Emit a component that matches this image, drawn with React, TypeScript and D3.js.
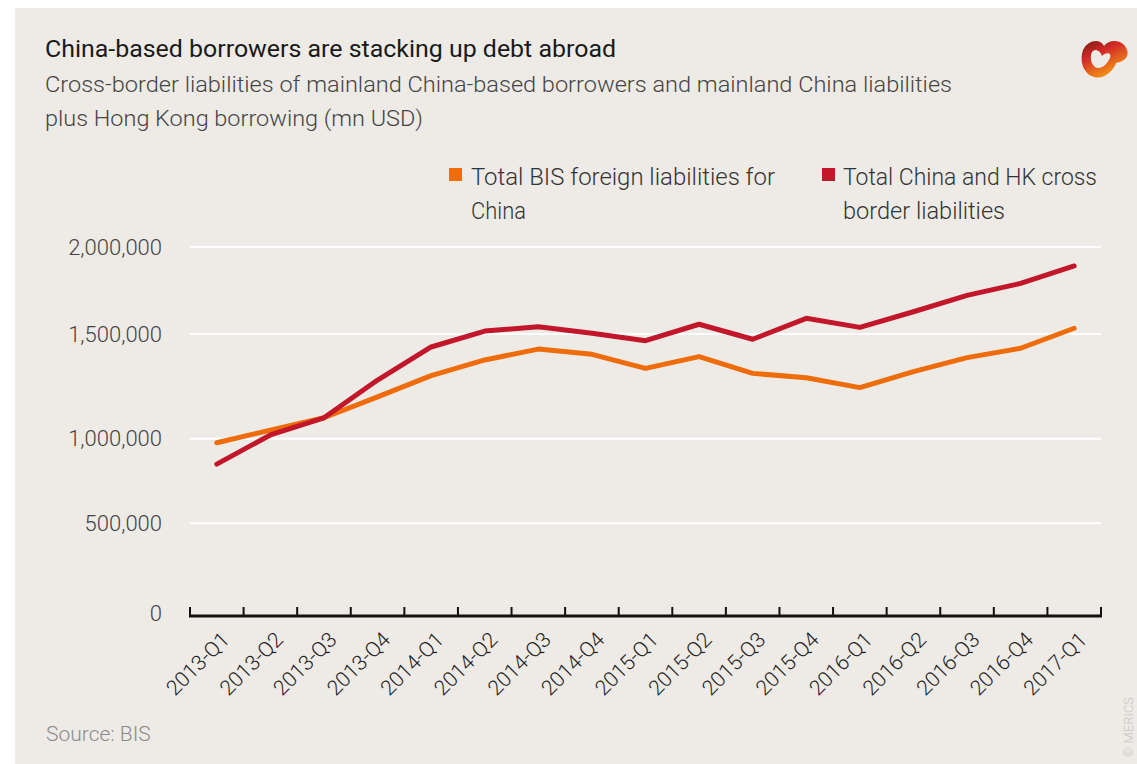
import React from "react";
import * as d3 from "d3";

const quarters = [
  "2013-Q1", "2013-Q2", "2013-Q3", "2013-Q4",
  "2014-Q1", "2014-Q2", "2014-Q3", "2014-Q4",
  "2015-Q1", "2015-Q2", "2015-Q3", "2015-Q4",
  "2016-Q1", "2016-Q2", "2016-Q3", "2016-Q4",
  "2017-Q1",
];

// Total BIS foreign liabilities for China (mn USD)
const bisChina = [
  976000, 1041000, 1100000, 1200000,
  1301000, 1376000, 1428000, 1403000,
  1336000, 1392000, 1312000, 1291000,
  1244000, 1320000, 1387000, 1432000,
  1533000,
];

// Total China and HK cross border liabilities (mn USD)
const chinaHk = [
  850000, 1018000, 1100000, 1280000,
  1438000, 1517000, 1542000, 1504000,
  1468000, 1556000, 1475000, 1590000,
  1538000, 1628000, 1722000, 1791000,
  1891000,
];

const yTicks = [0, 500000, 1000000, 1500000, 2000000];
// the original axis is not evenly spaced, so the scale is piecewise
const yTickPos = [615, 523.3, 438.7, 334, 247];

const ORANGE = "#ee6c0a";
const RED = "#c2172a";
const BG = "#eeeae6";
const FONT = "Roboto, 'Open Sans', sans-serif";

const App = () => {
  const W = 1137;
  const H = 764;

  const x = d3.scaleBand().domain(quarters).range([190, 1101]);
  const y = d3.scaleLinear().domain(yTicks).range(yTickPos);
  const fmt = d3.format(",");

  const line = d3
    .line<number>()
    .x((d, i) => (x(quarters[i]) as number) + x.bandwidth() / 2)
    .y((d) => y(d));

  const tickXs = quarters.map((q) => x(q) as number).concat([1101]);

  return (
    <svg
      width={W}
      height={H}
      style={{ position: "absolute", left: 0, top: 0, fontFamily: FONT }}
    >
      <rect x={0} y={0} width={W} height={H} fill="#fff" />
      <rect x={15} y={8} width={W - 15} height={H - 8} fill={BG} />

      {/* titles */}
      <text x={45} y={57} fontSize={24} fill="#1a1a1a" textLength={571} lengthAdjust="spacingAndGlyphs">
        China-based borrowers are stacking up debt abroad
      </text>
      <text x={45} y={92} fontSize={22} fontWeight={300} fill="#444" textLength={907} lengthAdjust="spacingAndGlyphs">
        Cross-border liabilities of mainland China-based borrowers and mainland China liabilities
      </text>
      <text x={45} y={126} fontSize={22} fontWeight={300} fill="#444" textLength={378} lengthAdjust="spacingAndGlyphs">
        plus Hong Kong borrowing (mn USD)
      </text>

      {/* logo */}
      <defs>
        <linearGradient id="logoGrad" x1="0" y1="0" x2="0.6" y2="1">
          <stop offset="0" stopColor="#7a1a10" />
          <stop offset="0.4" stopColor="#d42a2a" />
          <stop offset="1" stopColor="#f5a010" />
        </linearGradient>
      </defs>
      <path
        d="M1083,50 C1088,40 1100,38 1104,46 C1110,38 1124,40 1127,50 C1130,58 1122,62 1116,63 C1114,70 1104,80 1094,77 C1084,74 1079,62 1083,50 Z M1092,52 C1089,58 1092,68 1098,68 C1104,68 1108,62 1110,58 C1112,52 1106,52 1102,56 C1100,50 1095,48 1092,52 Z"
        fill="url(#logoGrad)"
        fillRule="evenodd"
      />

      {/* legend */}
      <rect x={449} y={168} width={13} height={13} fill={ORANGE} />
      <text x={471} y={185} fontSize={24} fontWeight={300} fill="#333" textLength={304} lengthAdjust="spacingAndGlyphs">
        Total BIS foreign liabilities for
      </text>
      <text x={471} y={219} fontSize={24} fontWeight={300} fill="#333" textLength={55} lengthAdjust="spacingAndGlyphs">
        China
      </text>
      <rect x={822} y={168} width={13} height={13} fill={RED} />
      <text x={843} y={185} fontSize={24} fontWeight={300} fill="#333" textLength={254} lengthAdjust="spacingAndGlyphs">
        Total China and HK cross
      </text>
      <text x={843} y={219} fontSize={24} fontWeight={300} fill="#333" textLength={162} lengthAdjust="spacingAndGlyphs">
        border liabilities
      </text>

      {/* grid + y labels */}
      {yTicks.map((t) => (
        <g key={t}>
          {t > 0 && (
            <line x1={190} x2={1101} y1={y(t)} y2={y(t)} stroke="#fff" strokeWidth={2} />
          )}
          <text
            x={162}
            y={y(t) - (t === 0 ? 2 : 0)}
            dy="0.35em"
            textAnchor="end"
            fontSize={22}
            fontWeight={300}
            fill="#444"
          >
            {fmt(t)}
          </text>
        </g>
      ))}

      {/* series */}
      <path d={line(bisChina) ?? ""} fill="none" stroke={ORANGE} strokeWidth={5} strokeLinejoin="round" strokeLinecap="round" />
      <path d={line(chinaHk) ?? ""} fill="none" stroke={RED} strokeWidth={5} strokeLinejoin="round" strokeLinecap="round" />

      {/* x axis */}
      <line x1={189} x2={1102} y1={616} y2={616} stroke="#111" strokeWidth={3} />
      {tickXs.map((tx, i) => (
        <line key={i} x1={tx} x2={tx} y1={607} y2={616} stroke="#111" strokeWidth={2} />
      ))}
      {quarters.map((q) => {
        const cx = (x(q) as number) + x.bandwidth() / 2 + 14;
        const cy = 641;
        return (
          <text
            key={q}
            x={cx}
            y={cy}
            transform={`rotate(-45, ${cx}, ${cy})`}
            textAnchor="end"
            fontSize={21}
            fontWeight={300}
            fill="#222"
            textLength={79}
            lengthAdjust="spacingAndGlyphs"
          >
            {q}
          </text>
        );
      })}

      {/* footer */}
      <text x={46} y={741} fontSize={21} fontWeight={300} fill="#8c8c8c">
        Source: BIS
      </text>
      <text
        x={1133}
        y={757}
        transform="rotate(-90, 1133, 757)"
        fontSize={13}
        fontWeight={300}
        fill="#c9c5c1"
      >
        © MERICS
      </text>
    </svg>
  );
};

export default App;
